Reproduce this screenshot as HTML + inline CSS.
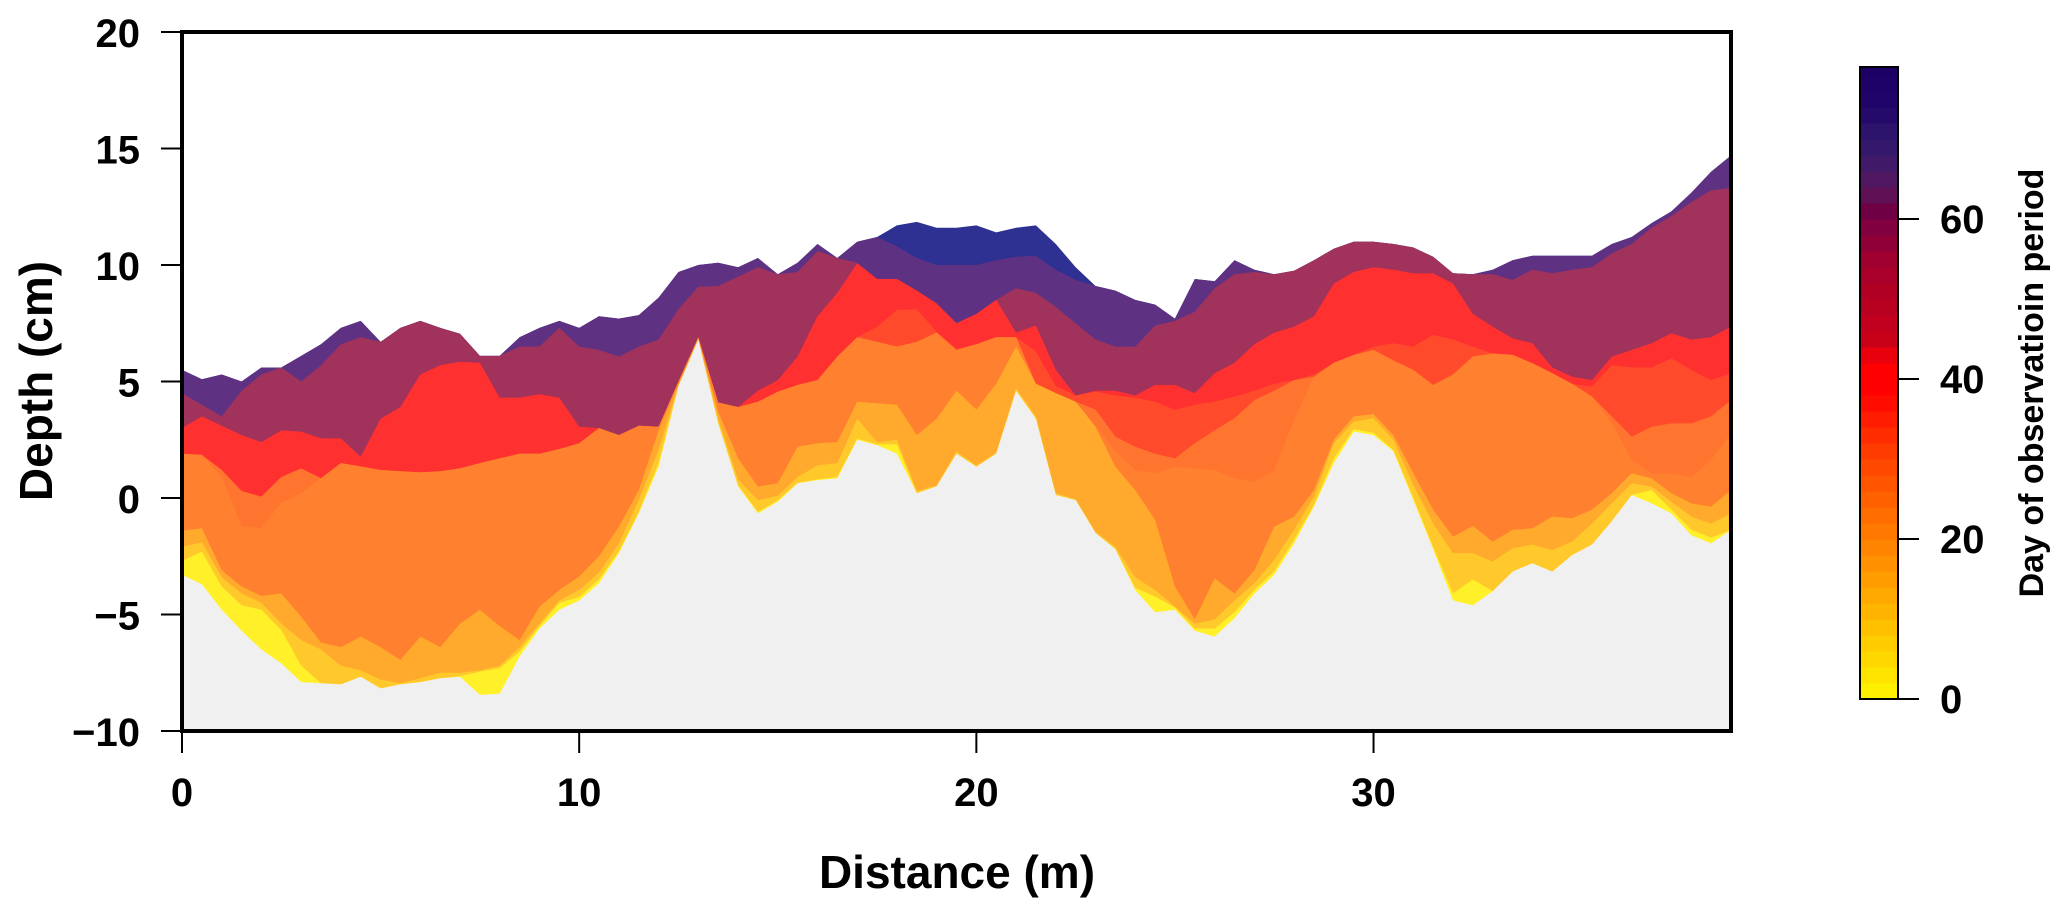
<!DOCTYPE html>
<html lang="en">
<head>
<meta charset="utf-8">
<title>Depth profile by day of observation period</title>
<style>
html,body{margin:0;padding:0;background:#fff;}
svg{display:block;}
text{font-family:"Liberation Sans",Arial,sans-serif;font-weight:700;fill:#000;}
</style>
</head>
<body>
<svg id="chart" xmlns="http://www.w3.org/2000/svg" width="2067" height="915" viewBox="0 0 2067 915"></svg>
<script>
// Shared distance samples: 0 to 39 m every 0.5 m
const distance = [0,0.5,1,1.5,2,2.5,3,3.5,4,4.5,5,5.5,6,6.5,7,7.5,8,8.5,9,9.5,10,10.5,11,11.5,12,12.5,13,13.5,14,14.5,15,15.5,16,16.5,17,17.5,18,18.5,19,19.5,20,20.5,21,21.5,22,22.5,23,23.5,24,24.5,25,25.5,26,26.5,27,27.5,28,28.5,29,29.5,30,30.5,31,31.5,32,32.5,33,33.5,34,34.5,35,35.5,36,36.5,37,37.5,38,38.5,39];

// Upper boundary (cm) of each coloured band
const blueTop = [5.5,5.1,5.3,5,5.6,5.6,6.1,6.6,7.3,7.6,6.7,7.3,7.6,7.3,7.05,6.1,6.1,6.9,7.3,7.6,7.3,7.8,7.7,7.85,8.6,9.7,10,10.1,9.9,10.3,9.6,10.1,10.9,10.3,11,11.2,11.7,11.85,11.6,11.6,11.7,11.4,11.6,11.7,10.9,9.9,9.1,8.9,8.5,8.3,7.7,9.4,9.3,10.2,9.8,9.6,9.75,10.2,10.7,11,11,10.9,10.75,10.35,9.65,9.6,9.8,10.2,10.4,10.4,10.4,10.4,10.9,11.2,11.8,12.3,13.1,14,14.7];
const purpleTop = [5.5,5.1,5.3,5,5.6,5.6,6.1,6.6,7.3,7.6,6.7,7.3,7.6,7.3,7.05,6.1,6.1,6.9,7.3,7.6,7.3,7.8,7.7,7.85,8.6,9.7,10,10.1,9.9,10.3,9.6,10.1,10.9,10.3,11,11.2,10.8,10.3,10,10,10,10.2,10.35,10.4,9.8,9.36,9.1,8.9,8.5,8.3,7.7,9.4,9.3,10.2,9.8,9.6,9.75,10.2,10.7,11,11,10.9,10.75,10.35,9.65,9.6,9.8,10.2,10.4,10.4,10.4,10.4,10.9,11.2,11.8,12.3,13.1,14,14.7];
const maroonTop = [4.5,4,3.5,4.6,5.3,5.6,5,5.7,6.6,6.9,6.7,7.3,7.6,7.3,7.05,6.1,6.1,6.5,6.5,7.3,6.5,6.35,6.07,6.5,6.8,8.1,9.07,9.1,9.5,9.9,9.6,9.7,10.6,10.3,10.1,9.4,9.4,8.9,8.35,7.5,7.9,8.5,9,8.8,8.2,7.5,6.8,6.5,6.5,7.4,7.6,8,9,9.6,9.7,9.6,9.75,10.2,10.7,11,11,10.9,10.75,10.35,9.65,9.6,9.6,9.36,9.8,9.65,9.8,9.9,10.5,10.9,11.6,12.1,12.7,13.2,13.3];
const redTop = [3,3.5,3.1,2.7,2.4,2.9,2.85,2.56,2.56,1.77,3.4,3.9,5.3,5.7,5.85,5.8,4.3,4.3,4.45,4.3,3.06,3,2.7,3.1,3.06,5,6.9,4.1,3.9,4.6,5.06,6.07,7.8,8.8,10.07,9.4,9.4,8.9,8.35,7.5,7.9,8.5,7.1,7.4,5.5,4.4,4.6,4.6,4.4,4.85,4.85,4.5,5.35,5.8,6.6,7.1,7.35,7.8,9.2,9.7,9.9,9.8,9.64,9.64,9.2,7.9,7.35,6.85,6.64,5.6,5.2,5.06,6.07,6.35,6.64,7.07,6.8,6.9,7.35];
const redOrangeTop = [1.9,1.85,1.2,0.3,0.06,0.9,1.27,0.85,1.5,1.35,1.2,1.15,1.1,1.15,1.27,1.5,1.7,1.9,1.9,2.1,2.35,3,2.7,3.1,3.06,5,6.9,4.1,3.9,4.13,4.56,4.85,5.06,6.07,6.9,7.35,8.07,8.1,7.14,6.4,6.6,6.9,6.9,6.3,4.8,4.4,4.56,4.4,4.3,4.13,3.78,4,4.13,4.35,4.6,4.9,5.06,5.3,5.8,6.14,6.5,6.64,6.5,7,6.8,6.5,6.2,6.14,5.78,5.35,4.9,4.78,5.7,5.6,5.6,6,5.5,5.06,5.35];
const deepOrangeTop = [1.9,1.85,1.2,0.3,0.06,0.9,1.27,0.85,1.5,1.35,1.2,1.15,1.1,1.15,1.27,1.5,1.7,1.9,1.9,2.1,2.35,3,2.7,3.1,3.06,5,6.9,4.1,3.9,4.13,4.56,4.85,5.06,6.07,6.9,6.7,6.5,6.7,7.1,6.35,6.6,6.9,6.9,4.9,4.5,4.13,3.8,2.63,2.2,1.9,1.7,2.35,2.9,3.42,4.2,4.6,5.06,5.2,5.8,6.14,6.35,5.9,5.5,4.85,5.3,6.07,6.2,6.14,5.78,5.35,4.9,4.35,3.5,2.63,3.06,3.2,3.2,3.5,4.2];
const orangeTop = [1.9,1.85,0.9,-1.2,-1.3,-0.2,0.2,0.85,1.5,1.35,1.2,1.15,1.1,1.15,1.27,1.5,1.7,1.9,1.9,2.1,2.35,3,2.7,3.1,3.06,5,6.9,4.1,3.9,4.13,4.56,4.85,5.06,6.07,6.9,6.7,6.5,6.7,7.1,6.35,6.6,6.9,6.9,4.9,4.5,4.13,3.1,2,1.2,1.06,1.34,1.27,1.2,0.84,0.7,1.2,3.35,5.2,5.8,6.14,6.35,5.9,5.5,4.85,5.3,6.07,6.2,6.14,5.78,5.35,4.9,4.35,3.2,1.63,1.06,1.06,0.9,1.63,2.77];
const amberTop = [-1.4,-1.3,-3.1,-3.8,-4.2,-4.1,-5.1,-6.2,-6.4,-5.95,-6.4,-6.95,-5.95,-6.4,-5.4,-4.8,-5.5,-6.1,-4.66,-3.95,-3.37,-2.5,-1.23,0.34,2.9,4.9,6.85,3.7,1.7,0.49,0.63,2.2,2.35,2.4,4.13,4.06,4,2.7,3.4,4.6,3.8,4.9,6.5,4.9,4.5,4.13,3.06,1.34,0.34,-0.94,-3.8,-5.2,-3.45,-4.1,-3.1,-1.23,-0.8,0.34,2.5,3.5,3.6,2.7,1.06,-0.5,-1.66,-1.2,-1.87,-1.37,-1.3,-0.8,-0.87,-0.5,0.2,1.06,0.84,0.2,-0.23,-0.37,0.34];
const goldTop = [-2.1,-1.9,-3.4,-4.1,-4.5,-5.4,-6.1,-6.5,-7.2,-7.4,-7.8,-7.95,-7.74,-7.5,-7.5,-7.4,-7.2,-6.4,-5.4,-4.4,-3.95,-3.2,-1.95,-0.1,2.06,4.85,6.8,3.4,0.8,-0.1,0.1,0.9,1.4,1.5,3.4,2.4,2.5,0.3,0.55,2,1.4,1.95,4.7,3.5,0.2,-0.05,-1.45,-2.1,-3.4,-3.95,-4.66,-5.4,-5.2,-4.4,-3.66,-2.66,-1.37,0.06,2.35,3.28,3.42,2.5,0.56,-1.1,-2.37,-2.37,-2.73,-2.16,-2,-2.23,-1.87,-1.1,-0.23,0.63,0.49,-0.16,-0.8,-1.1,-0.66];
const yellowTop = [-2.7,-2.3,-3.8,-4.6,-4.8,-5.67,-7.2,-7.95,-8,-7.67,-8.17,-8,-7.9,-7.74,-7.65,-7.45,-7.3,-6.6,-5.5,-4.5,-4.25,-3.5,-2.3,-0.6,1.5,4.8,6.8,3.2,0.55,-0.6,-0.1,0.65,0.8,0.9,2.55,2.3,2.3,0.2,0.5,1.9,1.34,1.9,4.6,3.4,0.13,-0.09,-1.5,-2.2,-3.85,-4.23,-4.7,-5.6,-5.6,-4.9,-3.95,-3.15,-1.8,-0.3,1.7,2.95,2.8,2.06,0,-2.1,-4.1,-3.5,-4,-3.16,-2.8,-3.16,-2.45,-2,-1,0.13,0.34,-0.5,-1.37,-1.7,-1.37];
const groundTop = [-3.3,-3.7,-4.8,-5.7,-6.5,-7.1,-7.9,-7.95,-8,-7.67,-8.17,-8,-7.9,-7.74,-7.67,-8.45,-8.4,-6.8,-5.6,-4.8,-4.4,-3.66,-2.37,-0.66,1.34,4.8,6.8,3.2,0.5,-0.66,-0.16,0.63,0.77,0.84,2.5,2.27,1.9,0.2,0.5,1.9,1.34,1.9,4.6,3.4,0.13,-0.09,-1.5,-2.2,-3.95,-4.9,-4.8,-5.7,-5.95,-5.16,-4.1,-3.3,-1.95,-0.37,1.5,2.85,2.7,2,-0.09,-2.2,-4.4,-4.6,-4,-3.16,-2.8,-3.16,-2.45,-2,-1,0.13,-0.23,-0.66,-1.6,-1.95,-1.37];

// Axis ticks and labels
const xTicks = [0,10,20,30];
const yTicks = [-10,-5,0,5,10,15,20];
const colorbarTicks = [0,20,40,60];

// Legend colour steps, one per two-day interval, day 0 upward
const colorbarMaxDay = 79;
const colorbarDayStep = 2;
const colorbarColors = ['#fff000','#ffe400','#ffd800','#ffcc00','#ffc000','#ffb400','#ffa800','#ff9c00','#ff9000','#ff8400','#ff7800','#ff6c00','#ff6000','#ff5400','#ff4800','#ff3c00','#ff2c00','#ff1c00','#ff0c00','#ff0000','#ff0000','#e8000c','#c80018','#c0001c','#b80020','#b00024','#a8002a','#a00030','#900038','#800040','#700044','#601054','#501860','#401a68','#34186c','#2c146c','#240a6a','#20046a','#1e0268','#1c0066'];

const xLeft = 182, xRight = 1731, yTop = 32, yBottom = 731;
const xMin = 0, xMax = 39, yMin = -10, yMax = 20;
const xScale = v => xLeft + (v - xMin) * (xRight - xLeft) / (xMax - xMin);
const yScale = v => yBottom - (v - yMin) * (yBottom - yTop) / (yMax - yMin);
const legendY = d => 699 - d * 8;

const svg = document.getElementById('chart');
const NS = 'http://www.w3.org/2000/svg';
function make(tag, attrs, text) {
  const el = document.createElementNS(NS, tag);
  for (const k in attrs) el.setAttribute(k, attrs[k]);
  if (text !== undefined) el.textContent = text;
  svg.appendChild(el);
  return el;
}

// Painted back to front: each band covers from its top edge to the plot floor
const bandOrder = [
  [blueTop, '#2e3192', 'band-blue'],
  [purpleTop, '#5f3182', 'band-purple'],
  [maroonTop, '#a0325c', 'band-maroon'],
  [redTop, '#ff3030', 'band-red'],
  [redOrangeTop, '#ff4b2c', 'band-red-orange'],
  [deepOrangeTop, '#ff7530', 'band-deep-orange'],
  [orangeTop, '#ff802e', 'band-orange'],
  [amberTop, '#ffa92d', 'band-amber'],
  [goldTop, '#ffc92c', 'band-gold'],
  [yellowTop, '#fff02a', 'band-yellow'],
  [groundTop, '#f0f0f0', 'ground-surface']
];
bandOrder.forEach(([values, color, name]) => {
  const edge = values.map((v, i) => xScale(distance[i]).toFixed(1) + ',' + yScale(v).toFixed(1)).join(' ');
  const pts = edge + ' ' + xScale(xMax) + ',' + yScale(yMin) + ' ' + xScale(xMin) + ',' + yScale(yMin);
  const el = make('polygon', {points: pts, fill: color});
  
  
});

// Plot frame
const frame = make('rect', {x: xLeft, y: yTop, width: xRight - xLeft, height: yBottom - yTop, fill: 'none', stroke: '#000', 'stroke-width': 4});



// X axis
xTicks.forEach(t => {
  const line = make('line', {x1: xScale(t), x2: xScale(t), y1: yBottom, y2: 753, stroke: '#000', 'stroke-width': 2});
  
  
  const label = make('text', {x: xScale(t), y: 806, 'text-anchor': 'middle', 'font-size': 40}, String(t));
  
  
});

// Y axis
yTicks.forEach(t => {
  const line = make('line', {x1: 161, x2: xLeft, y1: yScale(t), y2: yScale(t), stroke: '#000', 'stroke-width': 2});
  
  
  const label = make('text', {x: 140, y: yScale(t) + 15, 'text-anchor': 'end', 'font-size': 40}, String(t).replace('-', '\u2212'));
  
  
});

const xTitle = make('text', {x: 957, y: 888, 'text-anchor': 'middle', 'font-size': 46}, 'Distance (m)');


const yTitle = make('text', {x: 0, y: 0, transform: 'translate(52,381) rotate(-90)', 'text-anchor': 'middle', 'font-size': 46}, 'Depth (cm)');



// Colour bar
colorbarColors.forEach((c, i) => {
  const top = legendY(Math.min((i + 1) * colorbarDayStep, colorbarMaxDay));
  const bottom = legendY(i * colorbarDayStep);
  const seg = make('rect', {x: 1860, y: top, width: 38, height: bottom - top + 0.5, fill: c});
  
  
});
const barFrame = make('rect', {x: 1860, y: legendY(colorbarMaxDay), width: 38, height: legendY(0) - legendY(colorbarMaxDay), fill: 'none', stroke: '#000', 'stroke-width': 2});


colorbarTicks.forEach(t => {
  const line = make('line', {x1: 1898, x2: 1919, y1: legendY(t), y2: legendY(t), stroke: '#000', 'stroke-width': 2});
  
  
  const label = make('text', {x: 1940, y: legendY(t) + 14, 'font-size': 40}, String(t));
  
  
});
const barTitle = make('text', {x: 0, y: 0, transform: 'translate(2043,383) rotate(-90)', 'text-anchor': 'middle', 'font-size': 34}, 'Day of observatioin period');


</script>
</body>
</html>
